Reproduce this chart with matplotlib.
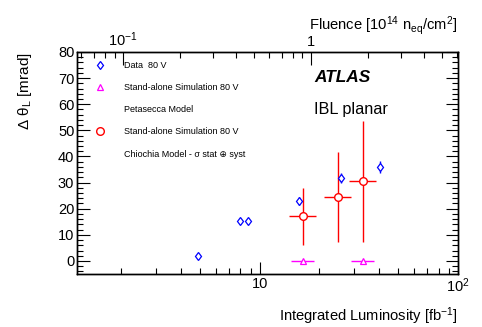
# Delta theta_L vs integrated luminosity, IBL planar
import matplotlib
matplotlib.use("Agg")
from matplotlib import pyplot as plt
from matplotlib.lines import Line2D
from matplotlib.ticker import LogLocator, FixedLocator, FixedFormatter, NullFormatter, MultipleLocator

plt.rcParams['font.family'] = ['Liberation Sans', 'DejaVu Sans']
plt.rcParams['mathtext.fontset'] = 'custom'
plt.rcParams['mathtext.rm'] = 'Liberation Sans'
plt.rcParams['mathtext.it'] = 'Liberation Sans:italic'
plt.rcParams['mathtext.bf'] = 'Liberation Sans:bold'

# data 80 V
lumi_data = [4.9, 8.0, 8.7, 15.8, 25.8, 40.4]
dtheta_data = [1.9, 15.3, 15.3, 23.0, 31.7, 36.1]
dtheta_data_err = [0.6, 0.8, 0.8, 1.4, 2.0, 2.3]

# stand-alone simulation, Petasecca model
lumi_pet = [16.6, 33.3]
lumi_pet_lo = [14.4, 28.8]
lumi_pet_hi = [18.8, 37.8]
dtheta_pet = [0.0, 0.0]

# stand-alone simulation, Chiochia model
lumi_chi = [16.6, 24.8, 33.3]
lumi_chi_lo = [14.1, 21.1, 28.3]
lumi_chi_hi = [19.2, 28.8, 38.5]
dtheta_chi = [17.2, 24.5, 30.7]
dtheta_chi_lo = [6.1, 7.4, 7.4]
dtheta_chi_hi = [28.1, 41.6, 53.6]

fig = plt.figure(figsize=(4.82, 3.27), dpi=100)
ax = fig.add_axes([0.160, 0.162, 0.790, 0.679])

blue = '#0000ff'
mag = '#ff00ff'
red = '#ff0000'

ax.errorbar(lumi_data, dtheta_data, yerr=dtheta_data_err, fmt='d', color=blue,
            mfc='white', mec=blue, ms=4.5, mew=0.9, elinewidth=1, capsize=0)

xe = [[c - l for c, l in zip(lumi_pet, lumi_pet_lo)], [h - c for c, h in zip(lumi_pet, lumi_pet_hi)]]
ax.errorbar(lumi_pet, dtheta_pet, xerr=xe, fmt='^', color=mag, mfc='white', mec=mag,
            ms=5, mew=0.9, elinewidth=1, capsize=0)

xe = [[c - l for c, l in zip(lumi_chi, lumi_chi_lo)], [h - c for c, h in zip(lumi_chi, lumi_chi_hi)]]
ye = [[c - l for c, l in zip(dtheta_chi, dtheta_chi_lo)], [h - c for c, h in zip(dtheta_chi, dtheta_chi_hi)]]
ax.errorbar(lumi_chi, dtheta_chi, xerr=xe, yerr=ye, fmt='o', color=red, mfc='white', mec=red,
            ms=5.5, mew=1, elinewidth=1, capsize=0)

ax.set_xscale('log')
ax.set_xlim(1.2, 100)
ax.set_ylim(-5, 80)
ax.xaxis.set_major_locator(FixedLocator([10, 100]))
ax.xaxis.set_major_formatter(FixedFormatter(['10', '$10^2$']))
ax.xaxis.set_minor_locator(LogLocator(base=10, subs=range(2, 10)))
ax.xaxis.set_minor_formatter(NullFormatter())
ax.yaxis.set_major_locator(MultipleLocator(10))
ax.yaxis.set_minor_locator(MultipleLocator(2))
ax.tick_params(which='both', direction='in', right=True, top=False, labelsize=10.5, pad=2)
ax.tick_params(which='major', length=9, width=0.8)
ax.tick_params(which='minor', length=4.5, width=0.8)

ax.set_xlabel('Integrated Luminosity [fb$^{-1}$]', loc='right', fontsize=10.6, labelpad=7)
ax.set_ylabel(r'$\Delta\ \mathrm{\theta}_{\mathrm{L}}$ [mrad]', loc='top', fontsize=11, labelpad=17)

# top fluence axis
ax2 = ax.twiny()
ax2.set_xscale('log')
ax2.set_xlim(0.0569, 6.05)
ax2.xaxis.set_major_locator(FixedLocator([0.1, 1]))
ax2.xaxis.set_major_formatter(FixedFormatter(['$10^{-1}$', '1']))
ax2.xaxis.set_minor_locator(LogLocator(base=10, subs=range(2, 10)))
ax2.xaxis.set_minor_formatter(NullFormatter())
ax2.tick_params(which='both', direction='in', labelsize=10.5, pad=2)
ax2.tick_params(which='major', length=9, width=0.8)
ax2.tick_params(which='minor', length=4.5, width=0.8)
ax2.set_xlabel('Fluence [10$^{14}$ n$_{\\mathrm{eq}}$/cm$^2$]', loc='right', fontsize=10.6, labelpad=1)

for a in (ax, ax2):
    for s in a.spines.values():
        s.set_linewidth(1.0)

handles = [
    Line2D([], [], ls='none', marker='d', mfc='white', mec=blue, ms=4.5, mew=0.9),
    Line2D([], [], ls='none', marker='^', mfc='white', mec=mag, ms=5, mew=0.9),
    Line2D([], [], ls='none'),
    Line2D([], [], ls='none', marker='o', mfc='white', mec=red, ms=5.5, mew=1),
    Line2D([], [], ls='none'),
]
labels = ['Data  80 V', 'Stand-alone Simulation 80 V', 'Petasecca Model',
          'Stand-alone Simulation 80 V', 'Chiochia Model - σ stat ⊕ syst']
ax.legend(handles, labels, loc='upper left', bbox_to_anchor=(0.02, 0.995), frameon=False,
          fontsize=6.5, labelspacing=1.45, handlelength=1.5, handletextpad=2.0)

ax.text(0.622, 0.887, 'ATLAS', transform=ax.transAxes, fontsize=12.4, fontweight='bold',
        fontstyle='italic', va='center')
ax.text(0.622, 0.739, 'IBL planar', transform=ax.transAxes, fontsize=11.7, va='center')

fig.savefig('out.png', dpi=100)
